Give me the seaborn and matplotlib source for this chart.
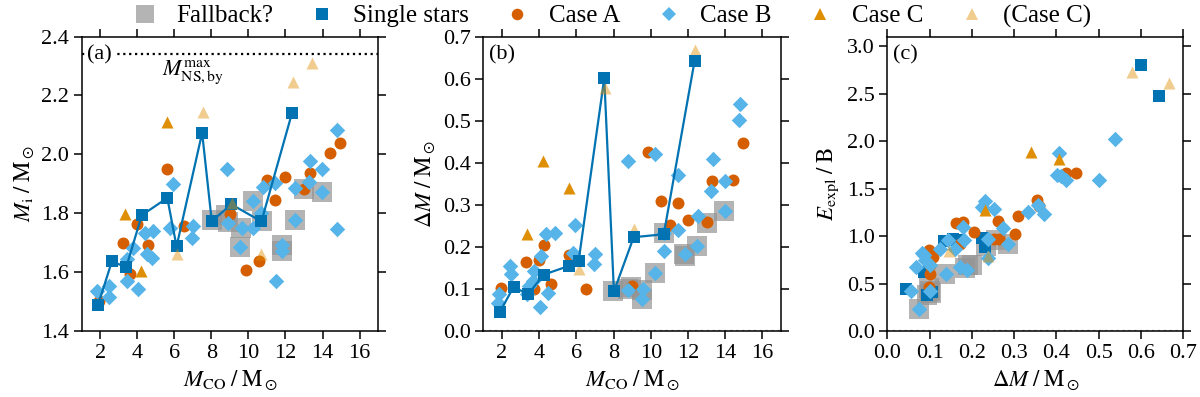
import numpy as np
import pandas as pd
import matplotlib
matplotlib.use("Agg")
import matplotlib.pyplot as plt
import seaborn as sns
from matplotlib.lines import Line2D
from matplotlib.ticker import FormatStrFormatter, MultipleLocator

# ---------------- data ----------------
# single stars (same models in all panels)
single_mco = [1.88, 2.63, 3.40, 4.24, 5.62, 6.12, 7.50, 8.02, 9.08, 10.70, 12.36]
single_mi = [1.488, 1.637, 1.616, 1.793, 1.852, 1.687, 2.073, 1.773, 1.830, 1.772, 2.142]
single_dm = [0.045, 0.105, 0.087, 0.134, 0.155, 0.166, 0.601, 0.094, 0.223, 0.230, 0.643]
single_e = [0.44, 0.41, 0.62, 0.95, 0.97, 0.96, 2.80, 0.38, 0.98, 0.88, 2.47]

# Case A
a_caseA_mco = [1.91, 3.25, 3.61, 3.97, 4.60, 5.62, 6.53, 8.98, 9.88, 10.56, 10.98, 11.42, 11.99, 13.01, 13.30, 14.38, 14.92]
a_caseA_mi = [1.503, 1.700, 1.593, 1.763, 1.693, 1.949, 1.755, 1.797, 1.607, 1.637, 1.912, 1.845, 1.923, 1.881, 1.937, 2.004, 2.037]
b_caseA_mco = [1.95, 3.29, 3.74, 4.00, 4.27, 4.63, 5.62, 6.52, 8.98, 9.83, 10.55, 11.02, 11.44, 11.98, 13.02, 13.29, 14.40, 14.96]
b_caseA_dm = [0.102, 0.163, 0.101, 0.169, 0.205, 0.111, 0.181, 0.099, 0.107, 0.425, 0.308, 0.252, 0.304, 0.264, 0.258, 0.356, 0.358, 0.447]
c_caseA_dm = [0.098, 0.100, 0.100, 0.099, 0.108, 0.163, 0.171, 0.179, 0.206, 0.253, 0.261, 0.265, 0.302, 0.308, 0.355, 0.358, 0.423, 0.447]
c_caseA_e = [0.46, 0.595, 0.70, 0.848, 0.777, 1.136, 0.919, 1.147, 1.041, 0.972, 1.157, 0.972, 1.024, 1.207, 1.376, 1.32, 1.664, 1.664]

# Case B
a_caseB_mco = [1.82, 2.45, 2.45, 3.43, 3.43, 3.79, 4.06, 4.42, 4.51, 4.78, 4.87, 5.76, 5.94, 6.93, 7.02,
               8.82, 8.90, 9.54, 9.63, 10.23, 10.23, 10.67, 10.76, 11.44, 11.48, 11.83, 11.83, 12.50, 12.52,
               13.27, 13.32, 13.95, 13.99, 14.76, 14.80]
a_caseB_mi = [1.537, 1.554, 1.514, 1.570, 1.644, 1.683, 1.542, 1.734, 1.661, 1.649, 1.740, 1.751, 1.898, 1.717, 1.757,
              1.949, 1.768, 1.686, 1.751, 1.842, 1.751, 1.802, 1.890, 1.904, 1.571, 1.692, 1.672, 1.777, 1.887,
              1.906, 1.977, 1.951, 1.872, 1.748, 2.082]
b_caseB_mco = [1.78, 1.86, 2.44, 2.48, 3.37, 3.47, 3.65, 3.74, 4.06, 4.09, 4.36, 4.45, 4.87, 5.80, 5.92, 6.96, 7.01,
               8.75, 8.79, 9.53, 9.58, 10.24, 10.24, 10.69, 10.69, 11.46, 11.49, 11.82, 12.48, 12.54, 13.25, 13.32,
               13.97, 14.01, 14.77, 14.81]
b_caseB_dm = [0.067, 0.087, 0.155, 0.135, 0.087, 0.107, 0.119, 0.143, 0.058, 0.179, 0.230, 0.091, 0.233, 0.186, 0.252,
              0.160, 0.183, 0.405, 0.098, 0.075, 0.099, 0.137, 0.421, 0.233, 0.190, 0.240, 0.371, 0.183, 0.201, 0.274,
              0.333, 0.409, 0.357, 0.286, 0.502, 0.540]
c_caseB_dm = [0.056, 0.067, 0.076, 0.082, 0.088, 0.090, 0.100, 0.100, 0.125, 0.138, 0.144, 0.159, 0.172, 0.178, 0.182,
              0.188, 0.223, 0.231, 0.237, 0.239, 0.253, 0.273, 0.286, 0.333, 0.357, 0.371, 0.402, 0.405, 0.411, 0.423,
              0.500, 0.539]
c_caseB_e = [0.426, 0.670, 0.227, 0.820, 0.795, 0.750, 0.690, 0.423, 0.866, 0.597, 0.958, 0.866, 0.672, 1.098, 0.958,
             0.640, 1.305, 1.365, 0.968, 0.770, 1.280, 1.085, 0.920, 1.252, 1.323, 1.235, 1.639, 1.878, 1.632, 1.586,
             1.594, 2.026]

# Case C
caseC_mco = [3.34, 4.20, 5.61]
caseC_mi = [1.797, 1.604, 2.110]
caseC_dm = [0.230, 0.405, 0.341]
caseC_e = [1.27, 1.815, 1.885]

# (Case C)
a_caseCl_mco = [6.12, 7.52, 9.10, 10.67, 12.38, 13.45]
a_caseCl_mi = [1.661, 2.143, 1.835, 1.661, 2.245, 2.310]
b_caseCl_mco = [6.12, 7.52, 9.08, 12.36]
b_caseCl_dm = [0.147, 0.577, 0.242, 0.667]
c_caseCl_dm = [0.147, 0.238, 0.579, 0.666]
c_caseCl_e = [0.84, 0.79, 2.73, 2.61]

# Fallback?
a_fb_mco = [8.02, 8.78, 8.88, 9.55, 9.60, 10.23, 10.72, 11.83, 11.83, 12.50, 13.00, 13.99]
a_fb_mi = [1.777, 1.795, 1.770, 1.686, 1.751, 1.842, 1.775, 1.692, 1.672, 1.777, 1.881, 1.872]
b_fb_mco = [7.99, 8.75, 8.95, 9.53, 9.53, 10.24, 10.69, 11.80, 11.85, 12.48, 13.02, 13.95]
b_fb_dm = [0.094, 0.100, 0.104, 0.098, 0.077, 0.137, 0.233, 0.183, 0.178, 0.201, 0.256, 0.285]
c_fb_dm = [0.076, 0.094, 0.098, 0.100, 0.104, 0.137, 0.183, 0.190, 0.201, 0.233, 0.256, 0.285]
c_fb_e = [0.227, 0.38, 0.45, 0.42, 0.40, 0.597, 0.66, 0.70, 0.69, 0.90, 0.96, 0.92]

M_NS_MAX = 2.34

legend_labels = ["Fallback?", "Single stars", "Case A", "Case B", "Case C", "(Case C)"]

# ---------------- style ----------------
sns.set_style("ticks")
plt.rcParams.update({
    "font.family": ["Liberation Serif", "DejaVu Serif"],
    "mathtext.fontset": "stix",
    "font.size": 16,
    "axes.labelsize": 16.5,
    "xtick.labelsize": 16,
    "ytick.labelsize": 16,
    "xtick.direction": "out",
    "ytick.direction": "out",
    "xtick.top": True,
    "ytick.right": True,
    "xtick.major.size": 5.5,
    "ytick.major.size": 5.5,
    "xtick.major.width": 1.1,
    "ytick.major.width": 1.1,
    "axes.linewidth": 1.1,
    "axes.edgecolor": "black",
    "xtick.color": "black",
    "ytick.color": "black",
    "text.color": "black",
    "axes.labelcolor": "black",
})

C_SINGLE = "#0173B2"
C_A = "#D55E00"
C_B = "#56B4E9"
C_C = "#DE8F05"
C_FB = "#949494"
FB_ALPHA = 0.7
CL_ALPHA = 0.45

S_FB, S_SINGLE, S_A, S_B, S_C = 190, 80, 74, 62, 75

fig = plt.figure(figsize=(12, 3.97), dpi=100)
ax_a = fig.add_axes([0.0681, 0.1662, 0.2470, 0.7418])
ax_b = fig.add_axes([0.4028, 0.1662, 0.2480, 0.7418])
ax_c = fig.add_axes([0.7394, 0.1662, 0.2467, 0.7418])


def sc(ax, x, y, color, marker, s, z, alpha=1.0):
    sns.scatterplot(x=x, y=y, ax=ax, color=color, marker=marker, s=s,
                    linewidth=0, alpha=alpha, zorder=z, legend=False)


# panel (a)
sc(ax_a, a_fb_mco, a_fb_mi, C_FB, "s", S_FB, 1, FB_ALPHA)
sc(ax_a, a_caseA_mco, a_caseA_mi, C_A, "o", S_A, 3)
sc(ax_a, a_caseB_mco, a_caseB_mi, C_B, "D", S_B, 4)
sc(ax_a, caseC_mco, caseC_mi, C_C, "^", S_C, 5)
sns.lineplot(x=single_mco, y=single_mi, ax=ax_a, color=C_SINGLE, lw=1.6,
             sort=True, estimator=None, zorder=5.5, legend=False)
sc(ax_a, single_mco, single_mi, C_SINGLE, "s", S_SINGLE, 6)
sc(ax_a, a_caseCl_mco, a_caseCl_mi, C_C, "^", S_C, 7, CL_ALPHA)
ax_a.axhline(M_NS_MAX, color="black", ls=":", lw=1.6, zorder=0.5)
ax_a.text(7.0, 2.327, r"$M_{\rm NS,by}^{\rm max}$", ha="center", va="top", fontsize=16)

# panel (b)
sc(ax_b, b_fb_mco, b_fb_dm, C_FB, "s", S_FB, 1, FB_ALPHA)
sc(ax_b, b_caseA_mco, b_caseA_dm, C_A, "o", S_A, 3)
sc(ax_b, b_caseB_mco, b_caseB_dm, C_B, "D", S_B, 4)
sc(ax_b, caseC_mco, caseC_dm, C_C, "^", S_C, 5)
sns.lineplot(x=single_mco, y=single_dm, ax=ax_b, color=C_SINGLE, lw=1.6,
             sort=True, estimator=None, zorder=5.5, legend=False)
sc(ax_b, single_mco, single_dm, C_SINGLE, "s", S_SINGLE, 6)
sc(ax_b, b_caseCl_mco, b_caseCl_dm, C_C, "^", S_C, 5.8, CL_ALPHA)

# panel (c)
sc(ax_c, c_fb_dm, c_fb_e, C_FB, "s", S_FB, 1, FB_ALPHA)
sc(ax_c, single_dm, single_e, C_SINGLE, "s", S_SINGLE, 2)
sc(ax_c, c_caseA_dm, c_caseA_e, C_A, "o", S_A, 3)
sc(ax_c, c_caseB_dm, c_caseB_e, C_B, "D", S_B, 4)
sc(ax_c, caseC_dm, caseC_e, C_C, "^", S_C, 5)
sc(ax_c, c_caseCl_dm, c_caseCl_e, C_C, "^", S_C, 5, CL_ALPHA)

for ax in (ax_b, ax_c):
    ax.axhline(0, color="0.6", ls=":", lw=1.6, zorder=0.5)

# axes setup
ax_a.set_xlim(1.0, 17.0)
ax_a.set_ylim(1.4, 2.4)
ax_a.xaxis.set_major_locator(MultipleLocator(2))
ax_a.yaxis.set_major_locator(MultipleLocator(0.2))
ax_a.yaxis.set_major_formatter(FormatStrFormatter("%.1f"))
ax_a.set_xlabel(r"$M_{\rm CO}\;/\;\mathrm{M}_\odot$")
ax_a.set_ylabel(r"$M_{\rm i}\;/\;\mathrm{M}_\odot$")

ax_b.set_xlim(1.0, 17.0)
ax_b.set_ylim(0.0, 0.7)
ax_b.xaxis.set_major_locator(MultipleLocator(2))
ax_b.yaxis.set_major_locator(MultipleLocator(0.1))
ax_b.yaxis.set_major_formatter(FormatStrFormatter("%.1f"))
ax_b.set_xlabel(r"$M_{\rm CO}\;/\;\mathrm{M}_\odot$")
ax_b.set_ylabel(r"$\Delta M\;/\;\mathrm{M}_\odot$")

ax_c.set_xlim(0.0, 0.7)
ax_c.set_ylim(0.0, 3.1)
ax_c.xaxis.set_major_locator(MultipleLocator(0.1))
ax_c.yaxis.set_major_locator(MultipleLocator(0.5))
ax_c.xaxis.set_major_formatter(FormatStrFormatter("%.1f"))
ax_c.yaxis.set_major_formatter(FormatStrFormatter("%.1f"))
ax_c.set_xlabel(r"$\Delta M\;/\;\mathrm{M}_\odot$")
ax_c.set_ylabel(r"$E_{\rm expl}\;/\;\mathrm{B}$")

for ax, lab in zip((ax_a, ax_b, ax_c), ("(a)", "(b)", "(c)")):
    ax.tick_params(which="both", top=True, right=True, labeltop=False, labelright=False)
    ax.text(0.018, 0.938, lab, transform=ax.transAxes, ha="left", va="center",
            fontsize=16, zorder=10,
            bbox=dict(facecolor="white", edgecolor="none", pad=1.5))

handles = [
    Line2D([], [], ls="none", marker="s", ms=13, color=C_FB, alpha=FB_ALPHA, mew=0),
    Line2D([], [], ls="none", marker="s", ms=8.5, color=C_SINGLE, mew=0),
    Line2D([], [], ls="none", marker="o", ms=8.3, color=C_A, mew=0),
    Line2D([], [], ls="none", marker="D", ms=7.3, color=C_B, mew=0),
    Line2D([], [], ls="none", marker="^", ms=8.5, color=C_C, mew=0),
    Line2D([], [], ls="none", marker="^", ms=8.5, color=C_C, alpha=CL_ALPHA, mew=0),
]
fig.legend(handles, legend_labels, loc="upper center", bbox_to_anchor=(0.507, 1.045),
           ncol=6, frameon=False, columnspacing=1.2, handletextpad=0.5,
           handlelength=1.5, fontsize=18)

fig.savefig("out.png", dpi=100)
